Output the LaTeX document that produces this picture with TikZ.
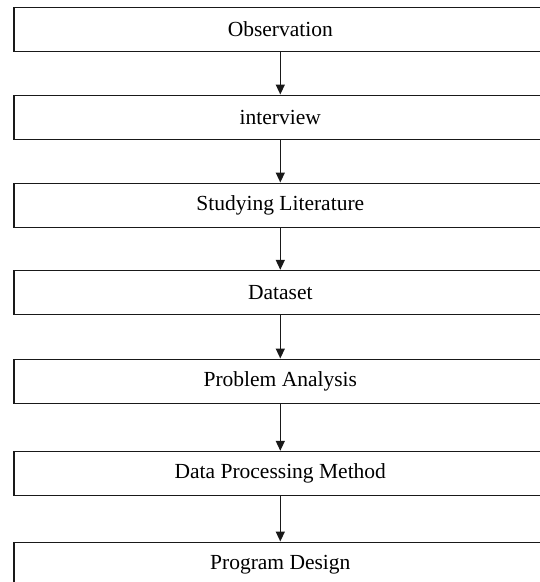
\documentclass[tikz,border=0pt]{standalone}
\usepackage{fontspec}
\setmainfont{Liberation Serif}
\usetikzlibrary{arrows.meta}
\begin{document}
\begin{tikzpicture}[x=1pt,y=-1pt,
  stepbox/.style={draw=black!90, line width=1.4pt, minimum width=533pt, minimum height=44pt, inner sep=0pt, font=\fontsize{21.5}{24}\selectfont},
  link/.style={-{Triangle[length=10pt,width=9pt]}, line width=1.4pt, draw=black!90}]
\clip (0,0) rectangle (540,582);
\node[stepbox] (s1) at (280.3, 29.2) {Observation};
\node[stepbox] (s2) at (280.3, 117.2) {interview};
\node[stepbox] (s3) at (280.3, 205.2) {Studying Literature};
\node[stepbox] (s4) at (280.3, 292.5) {Dataset};
\node[stepbox] (s5) at (280.3, 381.2) {Problem Analysis};
\node[stepbox] (s6) at (280.3, 473.5) {Data Processing Method};
\node[stepbox] (s7) at (280.3, 564.2) {Program Design};
\draw[link] (s1) -- (s2);
\draw[link] (s2) -- (s3);
\draw[link] (s3) -- (s4);
\draw[link] (s4) -- (s5);
\draw[link] (s5) -- (s6);
\draw[link] (s6) -- (s7);
\end{tikzpicture}
\end{document}
